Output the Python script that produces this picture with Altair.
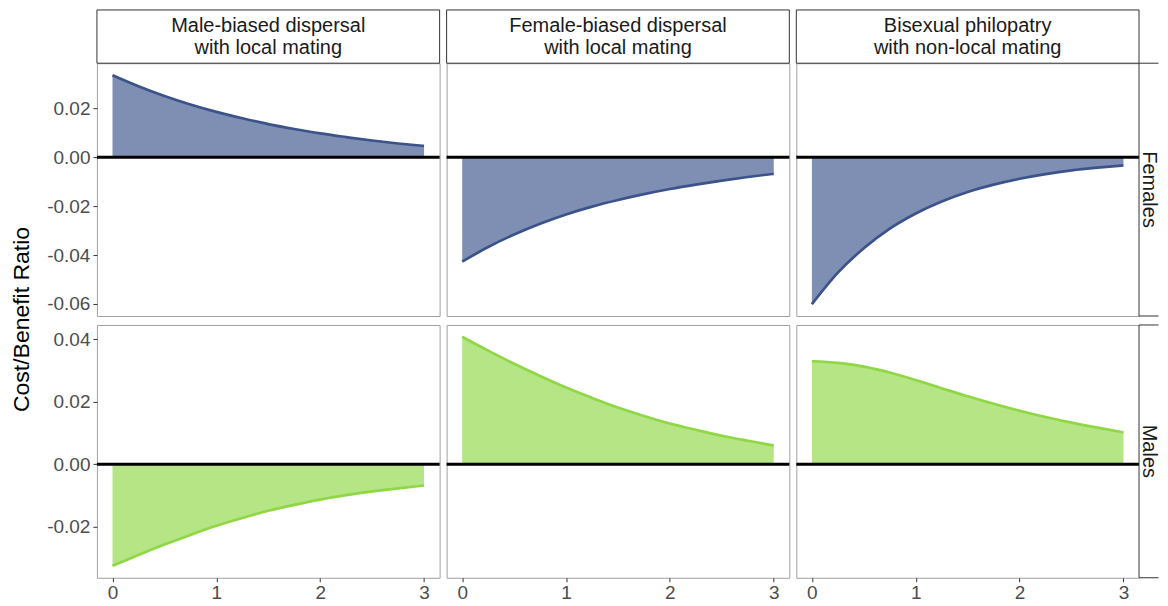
import altair as alt
import pandas as pd

# ---- data ----
x_vals = [0, 0.25, 0.5, 0.75, 1, 1.25, 1.5, 1.75, 2, 2.25, 2.5, 2.75, 3]
x_ticks = [0, 1, 2, 3]

scenario_line1 = ["Male-biased dispersal", "Female-biased dispersal", "Bisexual philopatry"]
scenario_line2 = ["with local mating", "with local mating", "with non-local mating"]
sexes = ["Females", "Males"]

females_male_biased = [0.0335, 0.0290, 0.0250, 0.0215, 0.0185, 0.0159, 0.0135,
                       0.0115, 0.0097, 0.0082, 0.0068, 0.0056, 0.0046]
females_female_biased = [-0.0427, -0.0367, -0.0316, -0.0272, -0.0234, -0.0202, -0.0175,
                         -0.0151, -0.0130, -0.0112, -0.0096, -0.0081, -0.0068]
females_bisexual = [-0.0601, -0.0472, -0.0372, -0.0292, -0.0230, -0.0181, -0.0142,
                    -0.0112, -0.0088, -0.0069, -0.0054, -0.0043, -0.0034]

males_male_biased = [-0.0325, -0.0290, -0.0257, -0.0226, -0.0197, -0.0172, -0.0149,
                     -0.0130, -0.0113, -0.0099, -0.0087, -0.0077, -0.0068]
males_female_biased = [0.0407, 0.0363, 0.0321, 0.0282, 0.0245, 0.0212, 0.0181,
                       0.0154, 0.0130, 0.0110, 0.0091, 0.0075, 0.0060]
males_bisexual = [0.0329, 0.0324, 0.0312, 0.0293, 0.0269, 0.0243, 0.0217,
                  0.0193, 0.0171, 0.0151, 0.0133, 0.0117, 0.0102]

y_ticks_females = [-0.06, -0.04, -0.02, 0.00, 0.02]
y_ticks_males = [-0.02, 0.00, 0.02, 0.04]

series = {
    "Females": [females_male_biased, females_female_biased, females_bisexual],
    "Males": [males_male_biased, males_female_biased, males_bisexual],
}

# ---- styling ----
FONT = "Liberation Sans"
colors = {"Females": "#3B528B", "Males": "#8FD744"}
y_domains = {"Females": [-0.0649, 0.0384], "Males": [-0.0363, 0.0445]}
y_tick_map = {"Females": y_ticks_females, "Males": y_ticks_males}
W, H = 343, 253
STRIP_H = 53.3
RSTRIP_W = 19.5
STRIP_STROKE = "#333333"

label_expr = "(datum.value < -0.00001 ? '-' : '') + format(abs(datum.value), '.2f')"


def panel(sex, col, row):
    values = series[sex][col]
    df = pd.DataFrame({"x": x_vals, "y": values})
    color = colors[sex]

    xaxis = alt.Axis(values=x_ticks, format="d", title=None, labelPadding=2) if row == 1 else None
    yaxis = (
        alt.Axis(values=y_tick_map[sex], labelExpr=label_expr, title=None, labelPadding=3)
        if col == 0
        else None
    )
    xenc = alt.X("x:Q", scale=alt.Scale(domain=[-0.15, 3.15], nice=False, zero=False), axis=xaxis)
    yenc = alt.Y("y:Q", scale=alt.Scale(domain=y_domains[sex], nice=False, zero=False), axis=yaxis)

    base = alt.Chart(df).encode(x=xenc, y=yenc)
    area = base.mark_area(color=color, fillOpacity=0.65, interpolate="monotone").encode(
        y2=alt.datum(0)
    )
    line = base.mark_line(color=color, strokeWidth=2.7, interpolate="monotone")
    zero = (
        alt.Chart(pd.DataFrame({"y": [0.0]}))
        .mark_rule(color="black", strokeWidth=3)
        .encode(y=yenc)
    )
    layers = [area, line, zero]

    dummy = pd.DataFrame({"d": [0]})
    if row == 0:
        layers.append(
            alt.Chart(dummy)
            .mark_rect(fill="white", stroke=STRIP_STROKE, strokeWidth=1)
            .encode(x=alt.value(0), x2=alt.value(W), y=alt.value(-STRIP_H), y2=alt.value(0))
        )
        for txt, yy in ((scenario_line1[col], -37.3), (scenario_line2[col], -15.6)):
            layers.append(
                alt.Chart(dummy)
                .mark_text(
                    text=txt,
                    font=FONT,
                    fontSize=20,
                    color="#1a1a1a",
                    align="center",
                    baseline="middle",
                )
                .encode(x=alt.value(W / 2), y=alt.value(yy))
            )
    if col == 2:
        layers.append(
            alt.Chart(dummy)
            .mark_rect(fill="white")
            .encode(x=alt.value(W), x2=alt.value(W + RSTRIP_W), y=alt.value(0), y2=alt.value(H))
        )
        for yy in (0, H):
            layers.append(
                alt.Chart(dummy)
                .mark_rule(color=STRIP_STROKE, strokeWidth=1)
                .encode(x=alt.value(W), x2=alt.value(W + RSTRIP_W), y=alt.value(yy))
            )
        layers.append(
            alt.Chart(dummy)
            .mark_rule(color=STRIP_STROKE, strokeWidth=1)
            .encode(x=alt.value(W), y=alt.value(0), y2=alt.value(H))
        )
        layers.append(
            alt.Chart(dummy)
            .mark_text(
                text=sex,
                font=FONT,
                fontSize=20,
                color="#1a1a1a",
                align="center",
                baseline="middle",
                angle=90,
            )
            .encode(x=alt.value(W + 9.5), y=alt.value(H / 2))
        )
    if col == 0 and row == 0:
        layers.append(
            alt.Chart(dummy)
            .mark_text(
                text="Cost/Benefit Ratio",
                font=FONT,
                fontSize=23,
                color="black",
                align="center",
                baseline="middle",
                angle=270,
            )
            .encode(x=alt.value(-75.4), y=alt.value(H + 3.5))
        )
    return alt.layer(*layers).properties(width=W, height=H)


panels = [panel(sexes[r], c, r) for r in range(2) for c in range(3)]

chart = (
    alt.concat(*panels, columns=3, spacing={"row": 9, "column": 7}, bounds="flush")
    .properties(padding={"left": 2, "top": 0, "right": 0, "bottom": 0})
    .configure(font=FONT)
    .configure_view(stroke="#a0a0a0", strokeWidth=1)
    .configure_axis(
        grid=False,
        domain=False,
        labelFont=FONT,
        labelFontSize=19,
        labelColor="#4d4d4d",
        tickColor="#333333",
        tickSize=4,
    )
)

chart.save("out.html", embed_options={"renderer": "svg", "actions": False})
